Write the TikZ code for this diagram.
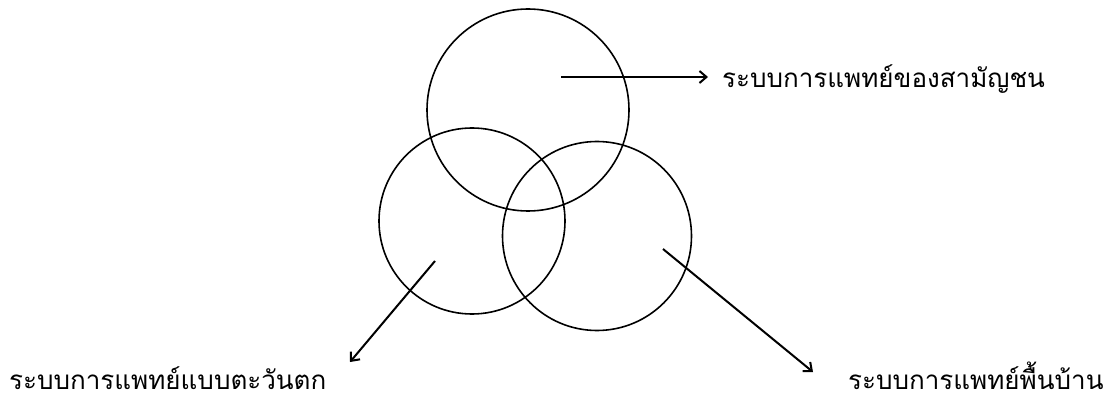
\documentclass[tikz,border=0pt]{standalone}
\usepackage{fontspec}
\newfontfamily\thaifont[Script=Thai]{Loma}
\usetikzlibrary{arrows.meta}

\begin{document}
\begin{tikzpicture}[x=1pt,y=-1pt]
\useasboundingbox (0,0) rectangle (1104,401);
\tikzset{ring/.style={circle, draw, line width=1.6pt, inner sep=0pt},
  label/.style={font=\thaifont\fontsize{26}{28}\selectfont, inner sep=0pt, anchor=base west},
  pointer/.style={line width=2pt, -{Straight Barb[length=7pt,width=12pt,line width=2pt]}}}
\node[ring, minimum size=202pt] (commoner) at (528,110) {};
\node[ring, minimum size=186pt] (western) at (472,221) {};
\node[ring, minimum size=189pt] (folk) at (597,236) {};
\node[label] (commonertext) at (722,88) {ระบบการแพทย์ของสามัญชน};
\node[label] (westerntext) at (9,389) {ระบบการแพทย์แบบตะวันตก};
\node[label] (folktext) at (848,389) {ระบบการแพทย์พื้นบ้าน};
\coordinate (commonerfrom) at (561,77);
\coordinate (commonerto) at (708,77);
\coordinate (westernfrom) at (435,261);
\coordinate (westernto) at (350,362);
\coordinate (folkfrom) at (663,249);
\coordinate (folkto) at (813,372);
\draw[pointer] (commonerfrom) -- (commonerto);
\draw[pointer] (westernfrom) -- (westernto);
\draw[pointer] (folkfrom) -- (folkto);
\end{tikzpicture}
\end{document}
